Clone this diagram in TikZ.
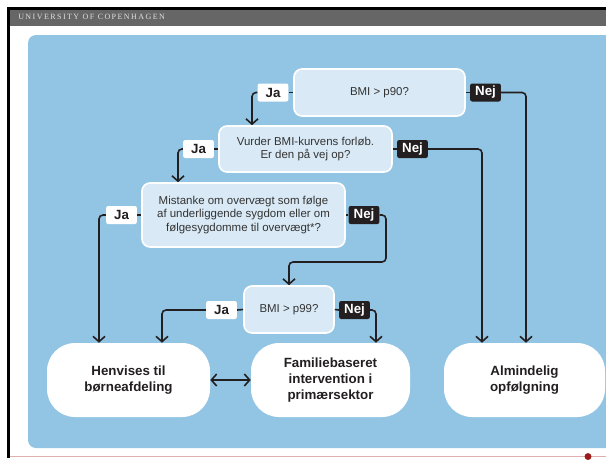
\documentclass[tikz,border=0pt]{standalone}
\usepackage{fontspec}
\setmainfont{Liberation Sans}
\newfontfamily\hdfont[LetterSpace=18]{Liberation Serif}
\usetikzlibrary{arrows.meta,positioning}
\definecolor{kuBla}{HTML}{92C5E4}
\definecolor{kuLys}{HTML}{D9EAF6}
\definecolor{kuGra}{HTML}{666666}
\definecolor{kuSort}{HTML}{231F20}
\definecolor{kuRod}{HTML}{9E1B1B}
\tikzset{
  spm/.style={draw=white,line width=1.2pt,fill=kuLys,rounded corners=6pt,align=center,text=black!80,inner sep=0pt},
  udfald/.style={fill=white,rounded corners=21pt,align=center,font=\bfseries,text=kuSort,minimum height=55.5pt,inner sep=0pt},
  jalab/.style={fill=white,rounded corners=1.5pt,font=\bfseries,text=kuSort,minimum width=23pt,minimum height=13.5pt,inner sep=0pt},
  nejlab/.style={fill=kuSort,text=white,rounded corners=1.5pt,font=\bfseries,minimum width=23pt,minimum height=13.5pt,inner sep=0pt},
  streg/.style={draw=kuSort,line width=1.2pt},
  pil/.style={streg,rounded corners=3pt,-{Straight Barb[length=4pt,width=9pt]}},
}

\begin{document}
\begin{tikzpicture}[x=0.75pt,y=-0.75pt,font=\fontsize{8.6pt}{10pt}\selectfont]
  \useasboundingbox (0,0) rectangle (606,462);
  % ramme og top
  \fill[black] (7,7) rectangle (606,9.5);
  \fill[black] (7,7) rectangle (9.5,458);
  \fill[kuGra] (9.5,9.5) rectangle (606,26);
  \node[anchor=west,inner sep=0pt,text=black!12,font=\hdfont\fontsize{6pt}{7pt}\selectfont] (hoved) at (18,17) {UNIVERSITY OF COPENHAGEN};
  \fill[kuBla,rounded corners=6pt] (28,35) rectangle (640,448);
  \draw[kuRod!35,line width=0.8pt] (9.5,456.5) -- (606,456.5);
  \fill[kuRod] (588,456.5) circle[radius=2.6pt];

  % spoergsmaal
  \node[spm,minimum width=128.25pt,minimum height=35.25pt] (p90) at (379.5,92.5) {BMI > p90?};
  \node[spm,minimum width=129.75pt,minimum height=34.5pt] (vurder) at (305.5,149) {Vurder BMI-kurvens forløb.\\Er den på vej op?};
  \node[spm,minimum width=152.25pt,minimum height=48pt] (mistanke) at (243.5,215) {Mistanke om overvægt som følge\\af underliggende sygdom eller om\\følgesygdomme til overvægt*?};
  \node[spm,minimum width=67.5pt,minimum height=35.25pt] (p99) at (289,309.5) {BMI > p99?};

  % udfald
  \node[udfald,minimum width=122.25pt] (henvis) at (128.5,380) {Henvises til\\børneafdeling};
  \node[udfald,minimum width=119.25pt] (familie) at (330.5,380) {Familiebaseret\\intervention i\\primærsektor};
  \node[udfald,minimum width=120.75pt] (alm) at (524.5,380) {Almindelig\\opfølgning};

  % ja / nej
  \node[jalab] (ja1) at (273,92.5) {Ja};
  \node[nejlab] (nej1) at (485.5,92.5) {Nej};
  \node[jalab] (ja2) at (198.5,149) {Ja};
  \node[nejlab] (nej2) at (412.5,149) {Nej};
  \node[jalab] (ja3) at (121.5,215) {Ja};
  \node[nejlab] (nej3) at (364,215) {Nej};
  \node[jalab] (ja4) at (221.5,310) {Ja};
  \node[nejlab] (nej4) at (354.5,310) {Nej};

  % forbindelser
  \draw[streg] (p90.west) -- (ja1.east);
  \draw[pil] (ja1.west) -| (252,0 |- vurder.north);
  \draw[streg] (p90.east) -- (nej1.west);
  \draw[pil] (nej1.east) -| (526,0 |- alm.north);
  \draw[streg] (vurder.west) -- (ja2.east);
  \draw[pil] (ja2.west) -| (178,0 |- mistanke.north);
  \draw[streg] (vurder.east) -- (nej2.west);
  \draw[pil] (nej2.east) -| (482,0 |- alm.north);
  \draw[streg] (mistanke.west) -- (ja3.east);
  \draw[pil] (ja3.west) -| (99,0 |- henvis.north);
  \draw[streg] (mistanke.east) -- (nej3.west);
  \draw[pil] (nej3.east) -| (386,262) -| (p99.north);
  \draw[streg] (p99.west) -- (ja4.east);
  \draw[pil] (ja4.west) -| (162,0 |- henvis.north);
  \draw[streg] (p99.east) -- (nej4.west);
  \draw[pil] (nej4.east) -| (376,0 |- familie.north);
  \draw[streg,{Straight Barb[length=4pt,width=9pt]}-{Straight Barb[length=4pt,width=9pt]}] (henvis) -- (familie);
\end{tikzpicture}
\end{document}
